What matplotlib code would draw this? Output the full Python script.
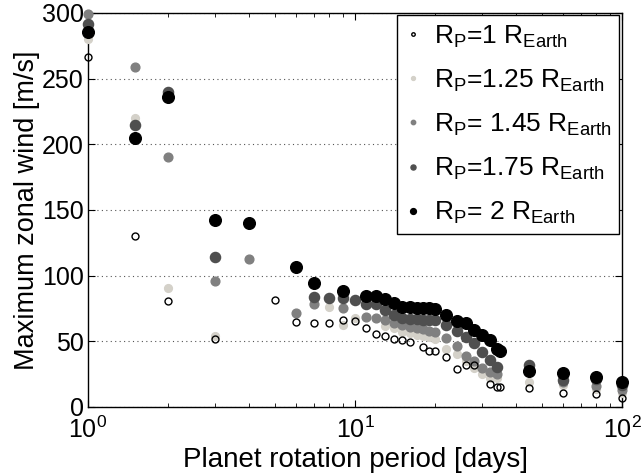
import matplotlib
matplotlib.use("Agg")
import matplotlib.pyplot as plt

plt.rcParams["font.family"] = ["Liberation Sans", "DejaVu Sans"]
plt.rcParams["mathtext.fontset"] = "custom"
plt.rcParams["mathtext.rm"] = "Liberation Sans"
plt.rcParams["mathtext.it"] = "Liberation Sans"

# Rp = 1 R_Earth (open circles)
p_10 = [1, 1.5, 2, 3, 5, 6, 7, 8, 9, 10, 11, 12, 13, 14, 15, 16, 18, 19, 20,
        22, 24, 26, 28, 32, 34, 35, 45, 60, 80, 100]
w_10 = [266.5, 130, 81, 52, 81.5, 65, 64, 64, 66, 65.5, 60, 55.6, 54, 52, 51, 49.5, 45.7, 42.6, 42.6,
        38, 29, 32, 32, 17.5, 15, 15, 14.5, 10.7, 10, 7]

# Rp = 1.25 R_Earth
p_125 = [1, 1.5, 2, 3, 8, 9, 10, 13, 14, 15, 16, 17, 18, 19, 20,
         22, 24, 26, 28, 30, 32, 34, 45, 60, 80, 100]
w_125 = [280, 220, 90.6, 54, 76, 62.5, 68, 61.7, 60, 57, 56, 55, 54, 53, 52,
         44, 40, 35, 30, 25, 22, 22, 19, 17, 14, 11]

# Rp = 1.45 R_Earth
p_145 = [1, 1.5, 2, 3, 4, 6, 7, 9, 11, 12, 13, 14, 15, 16, 17, 18, 19, 20,
         22, 24, 26, 28, 30, 32, 34, 45, 60, 80, 100]
w_145 = [299, 259, 190.5, 96, 112.7, 71.6, 78.5, 75, 68.5, 68, 66, 64, 62.5, 61, 60, 59, 58, 57,
         52.5, 46.5, 39, 35, 30, 27, 25, 30, 19, 16, 13]

# Rp = 1.75 R_Earth
p_175 = [1, 1.5, 2, 3, 7, 8, 9, 10, 11, 12, 13, 14, 15, 16, 17, 18, 19, 20,
         22, 24, 26, 28, 30, 32, 34, 45, 60, 80, 100]
w_175 = [291.7, 215, 240, 114, 84, 83, 83, 81.5, 78.5, 78.5, 74, 70, 68, 67, 67, 66, 66, 66,
         62.5, 58, 53, 49, 42, 36, 30.5, 32, 20.5, 21, 17]

# Rp = 2 R_Earth
p_20 = [1, 1.5, 2, 3, 4, 6, 7, 9, 11, 12, 13, 14, 15, 16, 17, 18, 19, 20,
        22, 24, 26, 28, 30, 32, 34, 35, 45, 60, 80, 100]
w_20 = [285.6, 205, 236, 142.5, 140, 106.6, 94.4, 88, 84.5, 84.5, 82, 79, 76, 76, 75.5, 75, 75, 74.6,
        70, 65.5, 64, 58.6, 55, 51, 44, 42.5, 27.5, 26, 23, 19]

labels = [r"R$_\mathregular{P}$=1 R$_\mathregular{Earth}$",
          r"R$_\mathregular{P}$=1.25 R$_\mathregular{Earth}$",
          r"R$_\mathregular{P}$= 1.45 R$_\mathregular{Earth}$",
          r"R$_\mathregular{P}$=1.75 R$_\mathregular{Earth}$",
          r"R$_\mathregular{P}$= 2 R$_\mathregular{Earth}$"]

fig = plt.figure(figsize=(6.42, 4.76), dpi=100)
ax = fig.add_axes([0.137, 0.145, 0.832, 0.828])

ax.yaxis.grid(True, linestyle=(0, (1, 3)), color="#555555", linewidth=0.8)
ax.set_axisbelow(True)

h125, = ax.plot(p_125, w_125, "o", ms=5.6, color="#d4d1c9", mec="#d4d1c9", clip_on=False, zorder=3)
h145, = ax.plot(p_145, w_145, "o", ms=6.3, color="#808080", mec="#808080", clip_on=False, zorder=4)
h175, = ax.plot(p_175, w_175, "o", ms=7.3, color="#4f4f4f", mec="#4f4f4f", clip_on=False, zorder=5)
h20, = ax.plot(p_20, w_20, "o", ms=8.4, color="black", mec="black", clip_on=False, zorder=6)
h10, = ax.plot(p_10, w_10, "o", ms=5, mfc="none", mec="black", mew=1.0, clip_on=False, zorder=7)

ax.set_xscale("log")
ax.set_xlim(1, 100)
ax.set_ylim(0, 300)
ax.set_yticks([0, 50, 100, 150, 200, 250, 300])
ax.tick_params(which="both", direction="in", top=True, right=True, labelsize=18)
ax.tick_params(axis="y", pad=3)
ax.tick_params(axis="x", pad=7)
ax.tick_params(which="major", length=5)
ax.tick_params(which="minor", length=3)
for s in ax.spines.values():
    s.set_linewidth(1.0)

ax.set_xlabel("Planet rotation period [days]", fontsize=20, labelpad=3)
ax.set_ylabel("Maximum zonal wind [m/s]", fontsize=19.5, labelpad=1)

leg = ax.legend([h10, h125, h145, h175, h20], labels, loc="upper right", fontsize=19,
                markerscale=0.5, handlelength=0.6, handletextpad=0.5, labelspacing=0.68,
                borderaxespad=0.1, borderpad=0.3, fancybox=False, edgecolor="black", framealpha=1)
leg.get_frame().set_linewidth(1.0)

fig.savefig("out.png", dpi=100)
